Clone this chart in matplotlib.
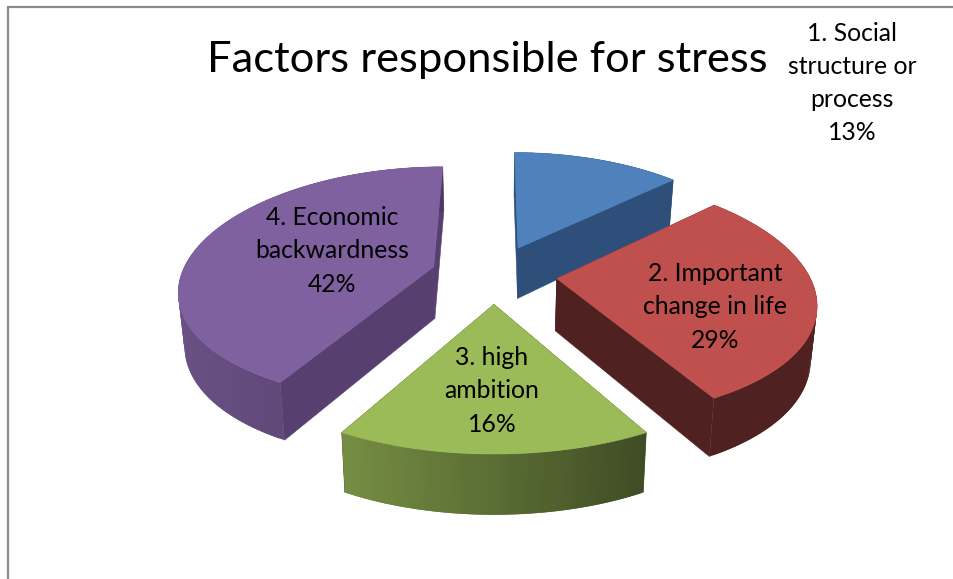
import matplotlib
matplotlib.use('Agg')
import matplotlib.pyplot as plt
import numpy as np

categories = ['1. Social\nstructure or\nprocess', '2. Important\nchange in life', '3. high\nambition', '4. Economic\nbackwardness']
shares = [13, 29, 16, 42]
title = 'Factors responsible for stress'

top_colors = ['#4f81bd', '#c0504d', '#9bbb59', '#7f61a0']
cut_colors = ['#2e4f7a', '#4f2120', '#3f4a23', '#573f70']
label_centers = [(852, 83), (715, 307), (492, 391), (332, 251)]

# projection of the pie plane onto the picture, in pixels
CX, CY = 494, 274
RX, RY = 252, 117
PERSP_X, PERSP_Y = 0.18, 0.15
EXPLODE = 0.25
SHRINK = 0.98


def project(u, v, lower=False):
    x = CX + RX * u / (1 + PERSP_X * v)
    y = CY - RY * v / (1 + PERSP_Y * v)
    if lower:
        x = CX + (x - CX) * SHRINK
        y = y + 52 - 7 * v
    return x, y


def shade(color, factor):
    rgb = np.array(matplotlib.colors.to_rgb(color))
    return tuple(rgb * factor)


def arc_factor(theta):
    # side walls get darker from left to right
    return np.interp(np.sin(theta), [-1, -0.48, 0.48, 1], [0.84, 0.76, 0.41, 0.41])


def draw_cut(ua, va, ub, vb, color):
    xa, ya = project(ua, va)
    xb, yb = project(ub, vb)
    xc, yc = project(ub, vb, lower=True)
    xd, yd = project(ua, va, lower=True)
    ax.fill([xa, xb, xc, xd], [ya, yb, yc, yd], color=color, lw=0.4)


def draw_wall(us, vs, theta, color):
    # overlapping strips, so no seams show between them
    for j in range(len(theta) - 2):
        xa, ya = project(us[j:j + 3], vs[j:j + 3])
        xb, yb = project(us[j:j + 3], vs[j:j + 3], lower=True)
        c = shade(color, arc_factor(theta[j]))
        ax.fill(np.r_[xa, xb[::-1]], np.r_[ya, yb[::-1]], color=c, lw=0)


fig = plt.figure(figsize=(9.54, 5.79), dpi=100)
ax = fig.add_axes([0, 0, 1, 1])
ax.set_xlim(0, 954)
ax.set_ylim(579, 0)
ax.axis('off')

# page frame
ax.plot([8, 8, 954], [579, 6.5, 6.5], color='#8c8c8c', lw=1.6, solid_joinstyle='miter')

edges = 2 * np.pi * np.concatenate([[0], np.cumsum(shares)]) / np.sum(shares)

# back slices first so the red top sits over the blue wall
for i in [0, 3, 1, 2]:
    t0, t1 = edges[i], edges[i + 1]
    mid = (t0 + t1) / 2
    ou, ov = EXPLODE * np.sin(mid), EXPLODE * np.cos(mid)
    theta = np.linspace(t0, t1, 120)
    us = ou + np.sin(theta)
    vs = ov + np.cos(theta)

    # faces from far to near, top last
    faces = [(np.mean(vs), 'wall', None)]
    for t in (t0, t1):
        u1, v1 = ou + np.sin(t), ov + np.cos(t)
        faces.append(((ov + v1) / 2, 'cut', (ou, ov, u1, v1)))
    faces.sort(key=lambda f: -f[0])
    for _, kind, pts in faces:
        if kind == 'wall':
            draw_wall(us, vs, theta, top_colors[i])
        else:
            draw_cut(*pts, cut_colors[i])

    x_top, y_top = project(np.r_[ou, us], np.r_[ov, vs])
    ax.fill(x_top, y_top, color=top_colors[i], lw=0.4)

ax.text(487.5, 60, title, family='Lato', fontsize=31.3, color='black', ha='center', va='center')

for name, share, (x, y) in zip(categories, shares, label_centers):
    ax.text(x, y, f'{name}\n{share}%', family='Lato', fontsize=17.8, color='black',
            ha='center', va='center', linespacing=1.54)

fig.savefig('out.png', dpi=100)
